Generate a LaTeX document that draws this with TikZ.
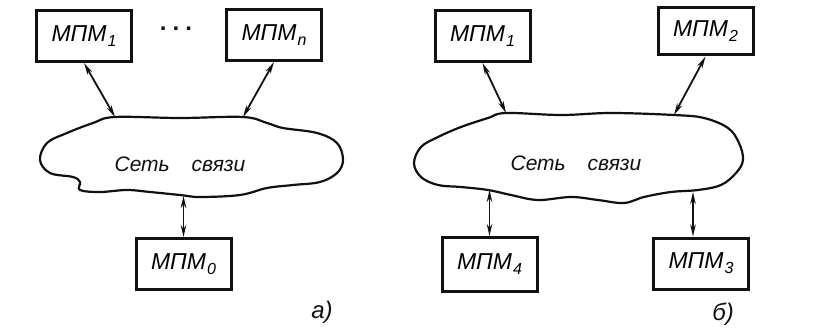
\documentclass[tikz,border=0pt]{standalone}
\usepackage{fontspec}
\setmainfont{Liberation Sans}
\usepackage{tikz}
\usetikzlibrary{positioning,arrows.meta,calc}
\definecolor{cInk}{HTML}{111111}
\newcommand{\mpmlbl}[1]{МПМ\kern1pt\raisebox{-5pt}{\fontsize{16}{16}\selectfont #1}}
\tikzset{
  >={Stealth[length=12pt,width=5.5pt]},
  mbox/.style={draw=cInk,line width=3pt,minimum width=95pt,minimum height=51pt,
               inner sep=0pt,font=\fontsize{23}{24}\selectfont\itshape},
  snet/.style={draw=cInk,line width=2.2pt},
  stxt/.style={font=\fontsize{21}{22}\selectfont\itshape,text=cInk},
  sar/.style ={<->,line width=1.8pt,cInk},
}

\begin{document}
\begin{tikzpicture}[x=1pt,y=-1pt]
  \useasboundingbox (0,0) rectangle (831,329);
  % (a) star via the network
  \node[mbox] (m1a) at (84,36) {\mpmlbl{1}};
  \node[mbox] (mna) at (274,35) {\mpmlbl{n}};
  \node[mbox] (m0a) at (183.5,264) {\mpmlbl{0}};
  \node[stxt,font=\fontsize{24}{24}\selectfont\bfseries] (dta) at (176,29) {.\hspace{6pt}.\hspace{6pt}.};
  \draw[snet] plot[smooth cycle,tension=0.6] coordinates {
    (115,117) (180,118) (243,117) (267,123) (283,128) (317,133) (337,143)
    (343,160) (337,173) (320,182) (293,185) (267,188) (240,195) (200,197)
    (180,195) (150,192) (127,190) (100,192) (80,190) (80,182) (73,177)
    (50,173) (40,160) (47,143) (67,133) (93,123)};
  \node[stxt] (neta) at (180,164) {Сеть\hspace{22pt}связи};
  \coordinate (ca1) at (115,117);
  \coordinate (can) at (243,117);
  \coordinate (ca0) at (183.5,196);
  \draw[sar] (m1a.south) -- (ca1);
  \draw[sar] (mna.south) -- (can);
  \draw[sar] (ca0) -- (m0a.north);
  \node[stxt,font=\fontsize{24}{24}\selectfont\itshape] (laba) at (322,312) {а)};

  % (b) four modules on the network
  \node[mbox] (m1b) at (482.5,36) {\mpmlbl{1}};
  \node[mbox,minimum height=47pt] (m2b) at (705.5,31.5) {\mpmlbl{2}};
  \node[mbox,minimum height=54pt] (m4b) at (489.5,264.5) {\mpmlbl{4}};
  \node[mbox] (m3b) at (701,263.5) {\mpmlbl{3}};
  \draw[snet] plot[smooth cycle,tension=0.6] coordinates {
    (506,113) (561,115) (611,113) (674,115) (704,118) (728,128) (739,143)
    (743,160) (736,173) (721,185) (698,190) (671,192) (644,197) (624,203)
    (598,200) (571,197) (538,200) (511,195) (488,190) (461,187) (438,185)
    (421,177) (414,163) (421,147) (438,137) (461,127) (488,118)};
  \node[stxt] (netb) at (576,163) {Сеть\hspace{22pt}связи};
  \coordinate (cb1) at (506,113);
  \coordinate (cb2) at (674,115);
  \coordinate (cb4) at (489.5,190);
  \coordinate (cb3) at (693,192);
  \draw[sar] (m1b.south) -- (cb1);
  \draw[sar] (m2b.south) -- (cb2);
  \draw[sar] (cb4) -- (m4b.north);
  \draw[sar] (cb3) -- (cb3 |- m3b.north);
  \node[stxt,font=\fontsize{24}{24}\selectfont\itshape] (labb) at (723,314) {б)};
\end{tikzpicture}
\end{document}
